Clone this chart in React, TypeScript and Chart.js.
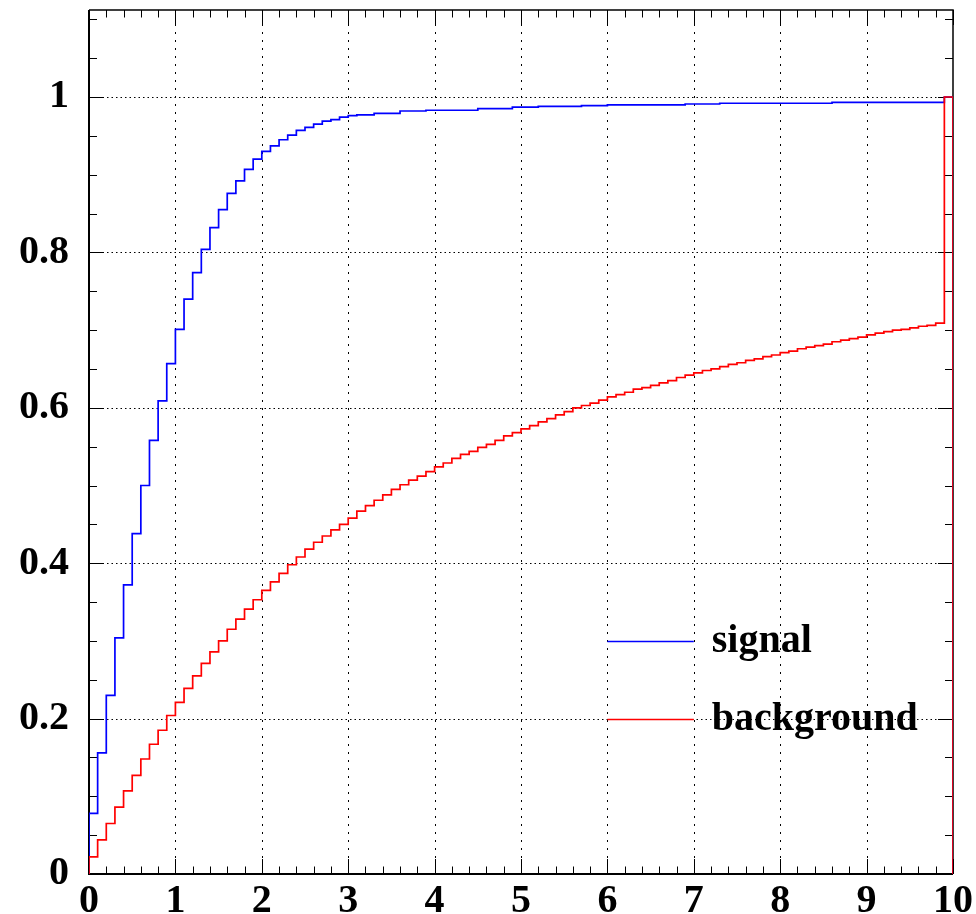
import React, { useEffect, useRef } from 'react';
import { Chart, registerables } from 'chart.js';

Chart.register(...registerables);

// Histogram binning (lower edge of first bin and bin width)
const BIN_LOW = 0;
const BIN_WIDTH = 0.1;

// Cumulative efficiency, one value per bin (0.0-0.1, 0.1-0.2, ... 9.9-10.0)
const SIGNAL = [
  0.078, 0.156, 0.230, 0.304, 0.372, 0.438, 0.500, 0.558, 0.609, 0.657,
  0.701, 0.740, 0.774, 0.804, 0.832, 0.855, 0.876, 0.892, 0.907, 0.920,
  0.930, 0.937, 0.945, 0.951, 0.957, 0.961, 0.965, 0.969, 0.971, 0.974,
  0.976, 0.977, 0.977, 0.979, 0.979, 0.979, 0.982, 0.982, 0.982, 0.983,
  0.983, 0.983, 0.983, 0.983, 0.983, 0.985, 0.985, 0.985, 0.985, 0.987,
  0.987, 0.987, 0.988, 0.988, 0.988, 0.988, 0.988, 0.989, 0.989, 0.989,
  0.990, 0.990, 0.990, 0.990, 0.990, 0.990, 0.990, 0.990, 0.990, 0.991,
  0.991, 0.991, 0.991, 0.992, 0.992, 0.992, 0.992, 0.992, 0.992, 0.992,
  0.992, 0.992, 0.992, 0.992, 0.992, 0.992, 0.993, 0.993, 0.993, 0.993,
  0.993, 0.993, 0.993, 0.993, 0.993, 0.993, 0.993, 0.993, 0.993, 1.000,
];

const BACKGROUND = [
  0.022, 0.044, 0.065, 0.086, 0.107, 0.127, 0.148, 0.167, 0.185, 0.204,
  0.221, 0.239, 0.255, 0.271, 0.286, 0.300, 0.315, 0.328, 0.341, 0.353,
  0.365, 0.376, 0.387, 0.398, 0.408, 0.418, 0.427, 0.435, 0.443, 0.450,
  0.458, 0.467, 0.474, 0.481, 0.488, 0.495, 0.501, 0.507, 0.512, 0.518,
  0.524, 0.529, 0.535, 0.540, 0.544, 0.549, 0.553, 0.558, 0.564, 0.568,
  0.573, 0.577, 0.582, 0.586, 0.591, 0.595, 0.600, 0.603, 0.606, 0.610,
  0.614, 0.617, 0.620, 0.624, 0.626, 0.629, 0.632, 0.635, 0.639, 0.642,
  0.645, 0.648, 0.650, 0.653, 0.656, 0.658, 0.661, 0.663, 0.666, 0.668,
  0.671, 0.673, 0.676, 0.678, 0.680, 0.682, 0.685, 0.687, 0.689, 0.691,
  0.694, 0.696, 0.698, 0.700, 0.701, 0.703, 0.705, 0.706, 0.709, 1.000,
];

const SERIES_LABELS = ['signal', 'background'];
const SERIES_COLORS = ['#0000ff', '#ff0000'];

const X_TICKS = [0, 1, 2, 3, 4, 5, 6, 7, 8, 9, 10];
const Y_TICKS = [0, 0.2, 0.4, 0.6, 0.8, 1];
const X_MIN = 0;
const X_MAX = 10;
const Y_MIN = 0;
const Y_MAX = 1.112;

const FONT_FAMILY = '"Liberation Serif", "Times New Roman", serif';

function toSteps(values: number[]) {
  const pts: { x: number; y: number }[] = [{ x: BIN_LOW, y: 0 }];
  values.forEach((v, i) => pts.push({ x: BIN_LOW + i * BIN_WIDTH, y: v }));
  const end = BIN_LOW + values.length * BIN_WIDTH;
  pts.push({ x: end, y: values[values.length - 1] });
  pts.push({ x: end, y: 0 });
  return pts;
}

const rootFramePlugin = {
  id: 'rootFrame',
  beforeDatasetsDraw(chart: any) {
    const { ctx, chartArea, scales } = chart;
    const { left, right, top, bottom } = chartArea;
    const xs = scales.x;
    const ys = scales.y;
    ctx.save();
    ctx.strokeStyle = '#000';
    ctx.lineWidth = 1;

    // dotted grid at major ticks
    ctx.setLineDash([2, 6]);
    X_TICKS.forEach((v) => {
      if (v <= X_MIN || v >= X_MAX) return;
      const p = Math.round(xs.getPixelForValue(v)) + 0.5;
      ctx.beginPath();
      ctx.moveTo(p, bottom);
      ctx.lineTo(p, top);
      ctx.stroke();
    });
    ctx.setLineDash([1.5, 3]);
    Y_TICKS.forEach((v) => {
      if (v <= Y_MIN) return;
      const p = Math.round(ys.getPixelForValue(v)) + 0.5;
      ctx.beginPath();
      ctx.moveTo(left, p);
      ctx.lineTo(right, p);
      ctx.stroke();
    });
    ctx.setLineDash([]);

    // x ticks (bottom and top, inward)
    for (let i = 0; i <= 50; i++) {
      const v = X_MIN + i * 0.2;
      const major = i % 5 === 0;
      const len = major ? 15 : 7.5;
      const p = Math.round(xs.getPixelForValue(v)) + 0.5;
      ctx.beginPath();
      ctx.moveTo(p, bottom);
      ctx.lineTo(p, bottom - len);
      ctx.moveTo(p, top);
      ctx.lineTo(p, top + len);
      ctx.stroke();
    }
    // y ticks (left and right, inward)
    for (let i = 0; i * 0.05 <= Y_MAX; i++) {
      const v = i * 0.05;
      const major = i % 4 === 0;
      const len = major ? 15 : 8;
      const p = Math.round(ys.getPixelForValue(v)) + 0.5;
      ctx.beginPath();
      ctx.moveTo(left, p);
      ctx.lineTo(left + len, p);
      ctx.moveTo(right, p);
      ctx.lineTo(right - len, p);
      ctx.stroke();
    }

    // frame
    ctx.lineWidth = 1.5;
    ctx.beginPath();
    ctx.moveTo(left, top);
    ctx.lineTo(right, top);
    ctx.lineTo(right, bottom);
    ctx.stroke();
    ctx.lineWidth = 2;
    ctx.beginPath();
    ctx.moveTo(left, top);
    ctx.lineTo(left, bottom);
    ctx.lineTo(right, bottom);
    ctx.stroke();
    ctx.restore();
  },
  afterDatasetsDraw(chart: any) {
    const { ctx, scales } = chart;
    const xs = scales.x;
    const ys = scales.y;
    const entries = [
      { label: SERIES_LABELS[0], color: SERIES_COLORS[0], yv: 0.3 },
      { label: SERIES_LABELS[1], color: SERIES_COLORS[1], yv: 0.2 },
    ];
    ctx.save();
    entries.forEach((e) => {
      const x0 = xs.getPixelForValue(6);
      const x1 = xs.getPixelForValue(7);
      const y = Math.round(ys.getPixelForValue(e.yv)) + 0.5;
      ctx.strokeStyle = e.color;
      ctx.lineWidth = 1.7;
      ctx.beginPath();
      ctx.moveTo(x0, y);
      ctx.lineTo(x1, y);
      ctx.stroke();
      ctx.fillStyle = '#000';
      ctx.font = `bold 40px ${FONT_FAMILY}`;
      ctx.textAlign = 'left';
      ctx.textBaseline = 'middle';
      ctx.fillText(e.label, x1 + 18, y);
    });
    ctx.restore();
  },
};

export default function App() {
  const canvasRef = useRef<HTMLCanvasElement | null>(null);

  useEffect(() => {
    const canvas = canvasRef.current;
    if (!canvas) return;
    const tickFont = { family: FONT_FAMILY, weight: 'bold' as const, size: 40 };
    const chart = new Chart(canvas, {
      type: 'line',
      data: {
        datasets: [
          {
            label: SERIES_LABELS[0],
            data: toSteps(SIGNAL),
            borderColor: SERIES_COLORS[0],
            borderWidth: 1.7,
            stepped: 'before',
            fill: false,
            pointRadius: 0,
            order: 2,
          },
          {
            label: SERIES_LABELS[1],
            data: toSteps(BACKGROUND),
            borderColor: SERIES_COLORS[1],
            borderWidth: 1.7,
            stepped: 'before',
            fill: false,
            pointRadius: 0,
            order: 1,
          },
        ],
      },
      options: {
        responsive: false,
        devicePixelRatio: 1,
        animation: false,
        events: [],
        layout: { padding: { top: 10, right: 23, left: 0, bottom: 0 } },
        plugins: {
          legend: { display: false },
          tooltip: { enabled: false },
          title: { display: false },
        },
        scales: {
          x: {
            type: 'linear',
            min: X_MIN,
            max: X_MAX,
            afterBuildTicks: (scale: any) => {
              scale.ticks = X_TICKS.map((v) => ({ value: v }));
            },
            ticks: {
              autoSkip: false,
              maxRotation: 0,
              font: tickFont,
              color: '#000',
              padding: 4,
              callback: (v: any) => String(v),
            },
            grid: { display: false, drawTicks: false },
            border: { display: false },
            afterFit: (scale: any) => {
              scale.height = 40;
              scale.paddingLeft = 0;
              scale.paddingRight = 0;
            },
          },
          y: {
            type: 'linear',
            min: Y_MIN,
            max: Y_MAX,
            afterBuildTicks: (scale: any) => {
              scale.ticks = Y_TICKS.map((v) => ({ value: v }));
            },
            ticks: {
              autoSkip: false,
              font: tickFont,
              color: '#000',
              padding: 20,
              callback: (v: any) => String(Math.round(Number(v) * 10) / 10),
            },
            grid: { display: false, drawTicks: false },
            border: { display: false },
            afterFit: (scale: any) => {
              scale.width = 89;
              scale.paddingTop = 0;
              scale.paddingBottom = 0;
            },
          },
        },
      },
      plugins: [rootFramePlugin],
    } as any);
    return () => chart.destroy();
  }, []);

  return (
    <div
      style={{
        position: 'absolute',
        left: 0,
        top: 0,
        width: 976,
        height: 914,
        background: '#fff',
      }}
    >
      <canvas ref={canvasRef} width={976} height={914} style={{ display: 'block' }} />
    </div>
  );
}
